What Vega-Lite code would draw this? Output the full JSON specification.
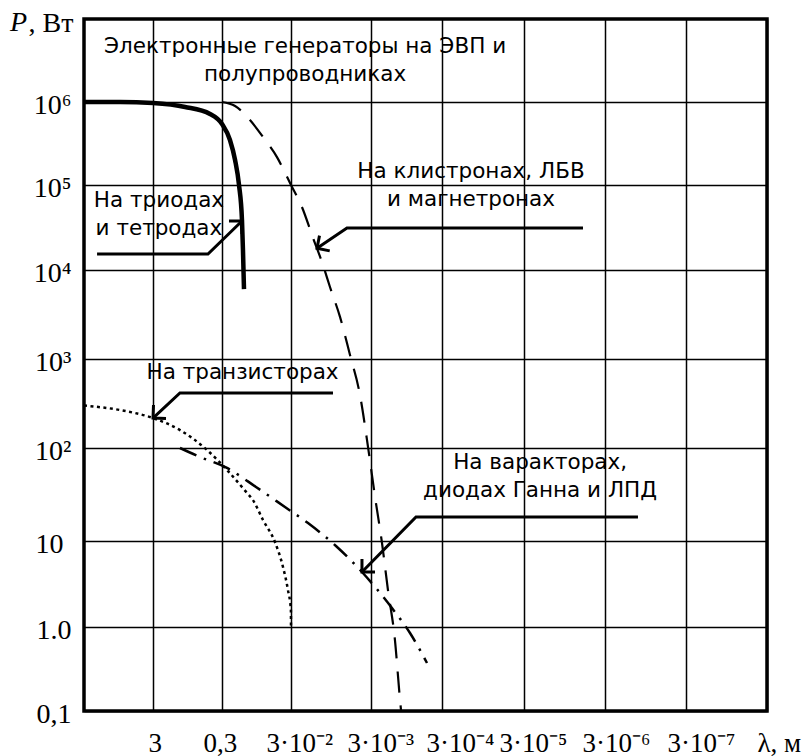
{
  "$schema": "https://vega.github.io/schema/vega-lite/v6.json",
  "width": 683,
  "height": 692,
  "autosize": {"type": "none"},
  "padding": {"left": 84, "top": 19, "right": 45, "bottom": 45},
  "background": "white",
  "config": {
    "view": {"stroke": "black", "strokeWidth": 3.5},
    "axis": {"domain": false, "ticks": false, "grid": true, "gridColor": "black", "gridWidth": 1.5, "gridOpacity": 1, "labelFont": "Liberation Serif", "labelFontSize": 28, "labelColor": "black", "labelOverlap": false, "labelFlush": false, "labelBound": false}
  },
  "datasets": {
    "curves": [
      {"s": "triode", "i": 1, "lambda": 30, "P": 1000000},
      {"s": "triode", "i": 2, "lambda": 9.0, "P": 1000000},
      {"s": "triode", "i": 3, "lambda": 3, "P": 970000},
      {"s": "triode", "i": 4, "lambda": 1.03, "P": 870000},
      {"s": "triode", "i": 5, "lambda": 0.448, "P": 717000},
      {"s": "triode", "i": 6, "lambda": 0.3, "P": 543000},
      {"s": "triode", "i": 7, "lambda": 0.23, "P": 348000},
      {"s": "triode", "i": 8, "lambda": 0.194, "P": 200000},
      {"s": "triode", "i": 9, "lambda": 0.17, "P": 100000},
      {"s": "triode", "i": 10, "lambda": 0.154, "P": 38700},
      {"s": "triode", "i": 11, "lambda": 0.149, "P": 17200},
      {"s": "triode", "i": 12, "lambda": 0.144, "P": 6100},
      {"s": "klystron", "i": 1, "lambda": 0.3, "P": 1000000},
      {"s": "klystron", "i": 2, "lambda": 0.194, "P": 895000},
      {"s": "klystron", "i": 3, "lambda": 0.118, "P": 607000},
      {"s": "klystron", "i": 4, "lambda": 0.0763, "P": 379000},
      {"s": "klystron", "i": 5, "lambda": 0.0479, "P": 217000},
      {"s": "klystron", "i": 6, "lambda": 0.03, "P": 100000},
      {"s": "klystron", "i": 7, "lambda": 0.0219, "P": 55100},
      {"s": "klystron", "i": 8, "lambda": 0.0159, "P": 23800},
      {"s": "klystron", "i": 9, "lambda": 0.0123, "P": 12400},
      {"s": "klystron", "i": 10, "lambda": 0.00977, "P": 6440},
      {"s": "klystron", "i": 11, "lambda": 0.00732, "P": 2970},
      {"s": "klystron", "i": 12, "lambda": 0.00549, "P": 1110},
      {"s": "klystron", "i": 13, "lambda": 0.00412, "P": 394},
      {"s": "klystron", "i": 14, "lambda": 0.00327, "P": 103},
      {"s": "klystron", "i": 15, "lambda": 0.00263, "P": 29.7},
      {"s": "klystron", "i": 16, "lambda": 0.0021, "P": 9.48},
      {"s": "klystron", "i": 17, "lambda": 0.00173, "P": 2.69},
      {"s": "klystron", "i": 18, "lambda": 0.00138, "P": 0.7},
      {"s": "klystron", "i": 19, "lambda": 0.00117, "P": 0.135},
      {"s": "klystron", "i": 20, "lambda": 0.00113, "P": 0.1},
      {"s": "transistor", "i": 1, "lambda": 30, "P": 300},
      {"s": "transistor", "i": 2, "lambda": 9.02, "P": 267},
      {"s": "transistor", "i": 3, "lambda": 3, "P": 217},
      {"s": "transistor", "i": 4, "lambda": 1.22, "P": 159},
      {"s": "transistor", "i": 5, "lambda": 0.495, "P": 95.2},
      {"s": "transistor", "i": 6, "lambda": 0.254, "P": 58},
      {"s": "transistor", "i": 7, "lambda": 0.13, "P": 32.8},
      {"s": "transistor", "i": 8, "lambda": 0.107, "P": 27.6},
      {"s": "transistor", "i": 9, "lambda": 0.0763, "P": 16.8},
      {"s": "transistor", "i": 10, "lambda": 0.0512, "P": 9.7},
      {"s": "transistor", "i": 11, "lambda": 0.0392, "P": 4.99},
      {"s": "transistor", "i": 12, "lambda": 0.0332, "P": 2.69},
      {"s": "transistor", "i": 13, "lambda": 0.0301, "P": 1.58},
      {"s": "transistor", "i": 14, "lambda": 0.03, "P": 1.0},
      {"s": "varactor", "i": 1, "lambda": 1.22, "P": 100},
      {"s": "varactor", "i": 2, "lambda": 0.625, "P": 80},
      {"s": "varactor", "i": 3, "lambda": 0.254, "P": 61},
      {"s": "varactor", "i": 4, "lambda": 0.0965, "P": 38.1},
      {"s": "varactor", "i": 5, "lambda": 0.0367, "P": 23.2},
      {"s": "varactor", "i": 6, "lambda": 0.0184, "P": 15.6},
      {"s": "varactor", "i": 7, "lambda": 0.00822, "P": 8.75},
      {"s": "varactor", "i": 8, "lambda": 0.00389, "P": 4.36},
      {"s": "varactor", "i": 9, "lambda": 0.00152, "P": 1.66},
      {"s": "varactor", "i": 10, "lambda": 0.000847, "P": 0.848},
      {"s": "varactor", "i": 11, "lambda": 0.000488, "P": 0.373}
    ],
    "leaders": [
      {"id": "L1", "i": 1, "lambda": 19.4, "P": 15400},
      {"id": "L1", "i": 2, "lambda": 0.479, "P": 15400},
      {"id": "L1", "i": 3, "lambda": 0.154, "P": 37700},
      {"id": "L1w", "i": 1, "lambda": 0.2376, "P": 37700},
      {"id": "L1w", "i": 2, "lambda": 0.154, "P": 37700},
      {"id": "L1w", "i": 3, "lambda": 0.154, "P": 26500},
      {"id": "L2", "i": 1, "lambda": 0.00000561, "P": 31200},
      {"id": "L2", "i": 2, "lambda": 0.00599, "P": 31200},
      {"id": "L2", "i": 3, "lambda": 0.01419, "P": 18000},
      {"id": "L2w", "i": 1, "lambda": 0.00984, "P": 16800},
      {"id": "L2w", "i": 2, "lambda": 0.01419, "P": 18000},
      {"id": "L2w", "i": 3, "lambda": 0.01321, "P": 25400},
      {"id": "L3", "i": 1, "lambda": 0.00896, "P": 415},
      {"id": "L3", "i": 2, "lambda": 1.22, "P": 415},
      {"id": "L3", "i": 3, "lambda": 3, "P": 217},
      {"id": "L3w", "i": 1, "lambda": 1.944, "P": 214.6},
      {"id": "L3w", "i": 2, "lambda": 3, "P": 217},
      {"id": "L3w", "i": 3, "lambda": 2.95, "P": 304},
      {"id": "L4", "i": 1, "lambda": 0.000001175, "P": 18.1},
      {"id": "L4", "i": 2, "lambda": 0.000697, "P": 18.1},
      {"id": "L4", "i": 3, "lambda": 0.00389, "P": 4.36},
      {"id": "L4w", "i": 1, "lambda": 0.002634, "P": 4.36},
      {"id": "L4w", "i": 2, "lambda": 0.00389, "P": 4.36},
      {"id": "L4w", "i": 3, "lambda": 0.00389, "P": 6.18}
    ],
    "labels": [
      {"label": "Электронные генераторы на ЭВП и\nполупроводниках", "lambda": 0.02, "P": 3890000},
      {"label": "На триодах\nи тетродах", "lambda": 2.46, "P": 55600},
      {"label": "На клистронах, ЛБВ\nи магнетронах", "lambda": 0.000133, "P": 120500},
      {"label": "На транзисторах", "lambda": 0.151, "P": 596},
      {"label": "На варакторах,\nдиодах Ганна и ЛПД", "lambda": 0.000019, "P": 59}
    ],
    "axisTitle": [
      {"t": "P", "lambda": 354.6, "P": 7170000}
    ]
  },
  "layer": [
    {
      "data": {"name": "curves"},
      "transform": [{"filter": "datum.s == 'triode'"}],
      "mark": {"type": "line", "color": "black", "strokeWidth": 4.5, "interpolate": "monotone", "strokeCap": "butt"},
      "encoding": {
        "x": {
          "field": "lambda", "type": "quantitative",
          "scale": {"type": "log", "domain": [30, 3, 0.3, 0.03, 0.003, 0.0003, 0.00003, 0.000003, 0.0000003, 0.00000003], "range": [0, 69, 138, 207, 287, 358, 440, 521, 602, 683], "nice": false, "zero": false},
          "axis": {
            "values": [3, 0.3, 0.03, 0.003, 0.0003, 0.00003, 0.000003, 0.0000003, 0.00000003],
            "title": null,
            "labelAlign": "left",
            "labelBaseline": "alphabetic",
            "labelPadding": 40,
            "labelFontSize": 27,
            "labelExpr": "datum.value > 1 ? '3' : datum.value > 0.1 ? '0,3' : datum.value > 0.01 ? '3·10⁻²' : datum.value > 0.001 ? '3·10⁻³' : datum.value > 0.0001 ? '3·10⁻⁴' : datum.value > 0.00001 ? '3·10⁻⁵' : datum.value > 0.000001 ? '3·10⁻⁶' : datum.value > 0.0000001 ? '3·10⁻⁷' : 'λ, м'",
            "labelOffset": {
              "condition": [
                {"test": "datum.value > 1", "value": -5},
                {"test": "datum.value > 0.1", "value": -19},
                {"test": "datum.value > 0.01", "value": -25},
                {"test": "datum.value > 0.001", "value": -24},
                {"test": "datum.value > 0.0001", "value": -16},
                {"test": "datum.value > 0.00001", "value": -25},
                {"test": "datum.value > 0.000001", "value": -23},
                {"test": "datum.value > 0.0000001", "value": -19}
              ],
              "value": -10
            }
          }
        },
        "y": {
          "field": "P", "type": "quantitative",
          "scale": {"type": "log", "domain": [0.1, 1, 10, 100, 1000, 10000, 100000, 1000000, 10000000], "range": [692, 608, 522, 429, 340, 251, 166, 83, 0], "nice": false, "zero": false},
          "axis": {
            "values": [0.1, 1, 10, 100, 1000, 10000, 100000, 1000000],
            "title": ", Вт",
            "titleAngle": 0,
            "titleAlign": "left",
            "titleBaseline": "alphabetic",
            "titleX": -56,
            "titleY": 12,
            "titleFont": "Liberation Serif",
            "titleFontSize": 28,
            "titleFontWeight": "normal",
            "titleColor": "black",
            "labelAlign": "right",
            "labelBaseline": "middle",
            "labelOffset": 3,
            "labelPadding": {"condition": {"test": "datum.value > 5 && datum.value < 50", "value": 21}, "value": 13},
            "labelExpr": "datum.value < 0.5 ? '0,1' : datum.value < 5 ? '1.0' : datum.value < 50 ? '10' : datum.value < 500 ? '10²' : datum.value < 5000 ? '10³' : datum.value < 50000 ? '10⁴' : datum.value < 500000 ? '10⁵' : '10⁶'"
          }
        },
        "order": {"field": "i", "type": "quantitative"}
      }
    },
    {
      "data": {"name": "curves"},
      "transform": [{"filter": "datum.s == 'klystron'"}],
      "mark": {"type": "line", "color": "black", "strokeWidth": 2.2, "strokeDash": [21, 13], "interpolate": "monotone"},
      "encoding": {
        "x": {"field": "lambda", "type": "quantitative"},
        "y": {"field": "P", "type": "quantitative"},
        "order": {"field": "i", "type": "quantitative"}
      }
    },
    {
      "data": {"name": "curves"},
      "transform": [{"filter": "datum.s == 'transistor'"}],
      "mark": {"type": "line", "color": "black", "strokeWidth": 2.5, "strokeDash": [3, 3.5], "interpolate": "monotone"},
      "encoding": {
        "x": {"field": "lambda", "type": "quantitative"},
        "y": {"field": "P", "type": "quantitative"},
        "order": {"field": "i", "type": "quantitative"}
      }
    },
    {
      "data": {"name": "curves"},
      "transform": [{"filter": "datum.s == 'varactor'"}],
      "mark": {"type": "line", "color": "black", "strokeWidth": 2.5, "strokeDash": [18, 8, 2.5, 8], "interpolate": "monotone"},
      "encoding": {
        "x": {"field": "lambda", "type": "quantitative"},
        "y": {"field": "P", "type": "quantitative"},
        "order": {"field": "i", "type": "quantitative"}
      }
    },
    {
      "data": {"name": "leaders"},
      "mark": {"type": "line", "color": "black", "strokeWidth": 3, "strokeJoin": "miter"},
      "encoding": {
        "x": {"field": "lambda", "type": "quantitative"},
        "y": {"field": "P", "type": "quantitative"},
        "detail": {"field": "id"},
        "order": {"field": "i", "type": "quantitative"}
      }
    },
    {
      "data": {"name": "labels"},
      "mark": {"type": "text", "font": "DejaVu Sans", "fontSize": 21.5, "color": "black", "align": "center", "baseline": "alphabetic", "lineBreak": "\n", "lineHeight": 28},
      "encoding": {
        "x": {"field": "lambda", "type": "quantitative"},
        "y": {"field": "P", "type": "quantitative"},
        "text": {"field": "label"}
      }
    },
    {
      "data": {"name": "axisTitle"},
      "mark": {"type": "text", "font": "Liberation Serif", "fontSize": 28, "fontStyle": "italic", "color": "black", "align": "left", "baseline": "alphabetic", "clip": false},
      "encoding": {
        "x": {"field": "lambda", "type": "quantitative"},
        "y": {"field": "P", "type": "quantitative"},
        "text": {"field": "t"}
      }
    }
  ]
}
